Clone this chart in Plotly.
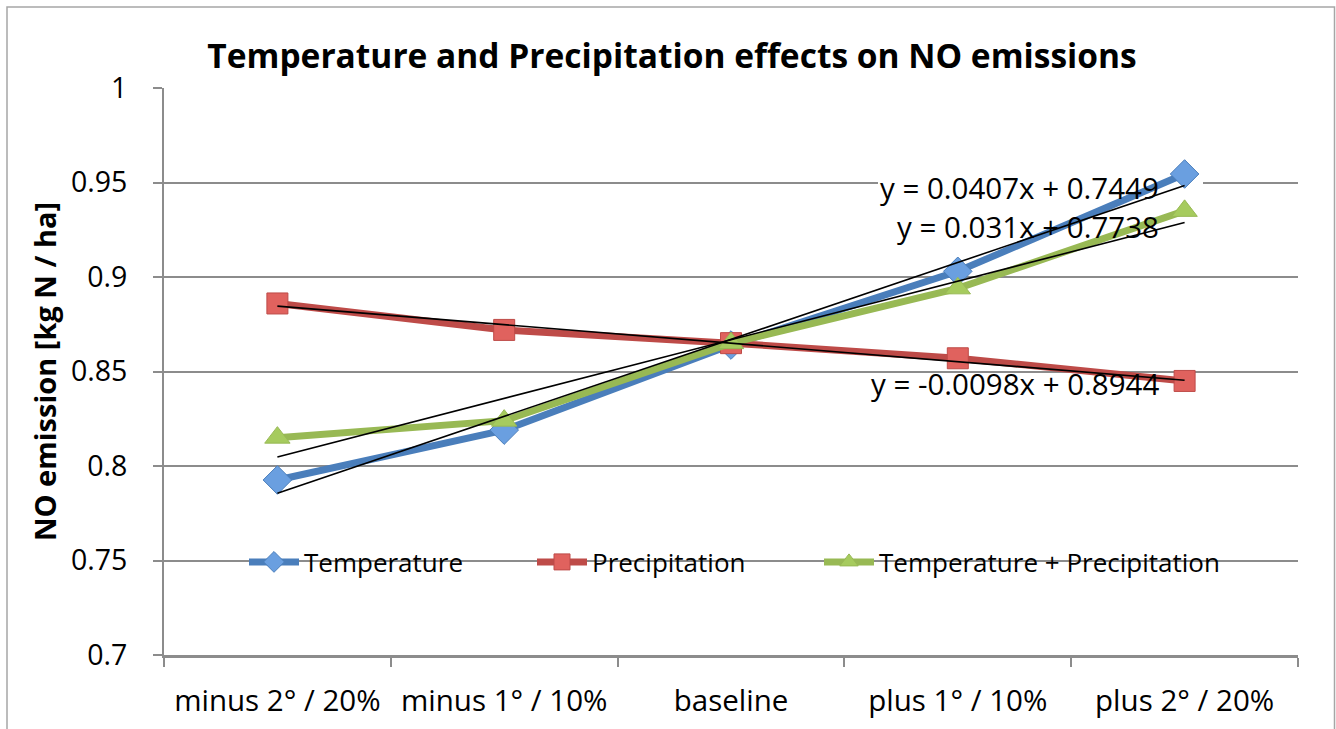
import plotly.graph_objects as go

# Scenario categories along the x axis
categories = ["minus 2° / 20%", "minus 1° / 10%", "baseline", "plus 1° / 10%", "plus 2° / 20%"]
x_pos = [1, 2, 3, 4, 5]

# NO emission [kg N / ha] per scenario
temperature = [0.7926, 0.819, 0.864, 0.903, 0.9545]
precipitation = [0.886, 0.872, 0.865, 0.857, 0.845]
temp_precip = [0.815, 0.824, 0.865, 0.894, 0.935]

# Linear trend coefficients (slope, intercept)
trend_temperature = (0.0407, 0.7449)
trend_precipitation = (-0.0098, 0.8944)
trend_temp_precip = (0.031, 0.7738)

y_ticks = [0.7, 0.75, 0.8, 0.85, 0.9, 0.95, 1]

FONT = "Open Sans"

# Plot area in pixels (used to place labels/legends)
L, R, T, B = 164, 1298, 88, 655


def px_to_x(px):
    return 0.5 + (px - L) / (R - L) * 5


def px_to_paper_x(px):
    return (px - L) / (R - L)


def px_to_paper_y(py):
    return (B - py) / (B - T)


fig = go.Figure()

series = [
    ("Temperature", temperature, "#4A7EBB", "#6A9FE0", "diamond", 22, "legend", 244),
    ("Precipitation", precipitation, "#BE4B48", "#E0625E", "square", 21, "legend2", 532),
    ("Temperature + Precipitation", temp_precip, "#98B954", "#A6CB5E", "triangle-up", 22, "legend3", 819),
]
legend_font = dict(family=FONT, size=26, color="black")
legends = {}
for name, vals, lc, mc, sym, sz, leg, lx in series:
    fig.add_trace(go.Scatter(
        x=x_pos, y=vals, name=name, mode="lines+markers", legend=leg,
        line=dict(color=lc, width=7),
        marker=dict(symbol=sym, size=sz, color=mc, line=dict(color=lc, width=1)),
    ))
    legends[leg] = dict(orientation="h", x=px_to_paper_x(lx), xanchor="left",
                        y=px_to_paper_y(562), yanchor="middle", font=legend_font,
                        bgcolor="rgba(0,0,0,0)", itemwidth=50)

# Black trend lines across the category range
for slope, icpt in (trend_temperature, trend_precipitation, trend_temp_precip):
    fig.add_trace(go.Scatter(
        x=[x_pos[0], x_pos[-1]],
        y=[slope * x_pos[0] + icpt, slope * x_pos[-1] + icpt],
        mode="lines", line=dict(color="black", width=1.6),
        showlegend=False, hoverinfo="skip",
    ))


def eq_text(slope, icpt):
    sign = "+" if icpt >= 0 else "-"
    return f"y = {slope:g}x {sign} {abs(icpt):.4f}"


eq_font = dict(family=FONT, size=29.5, color="black")
for coef, yv in ((trend_temperature, 0.9475), (trend_temp_precip, 0.9265), (trend_precipitation, 0.8435)):
    fig.add_annotation(x=px_to_x(1161), xref="x", y=yv, yref="y", text=eq_text(*coef),
                       showarrow=False, xanchor="right", yanchor="middle", font=eq_font)

# White backing behind the top equation (drawn under the series)
fig.add_shape(type="rect", xref="x", yref="y",
              x0=px_to_x(878), x1=px_to_x(1203),
              y0=0.9415, y1=0.9525, fillcolor="white", line=dict(width=0), layer="between")

# Outer chart border
fig.add_shape(type="rect", xref="paper", yref="paper",
              x0=px_to_paper_x(7), x1=px_to_paper_x(1334.5),
              y0=px_to_paper_y(740), y1=px_to_paper_y(7),
              line=dict(color="#A6A6A6", width=1.5), fillcolor="rgba(0,0,0,0)", layer="below")

fig.update_layout(
    width=1336, height=729,
    margin=dict(l=L, r=1336 - R, t=T, b=729 - B, autoexpand=False),
    paper_bgcolor="white", plot_bgcolor="white",
    title=dict(text="<b>Temperature and Precipitation effects on NO emissions</b>",
               x=672 / 1336, xanchor="center", y=1 - 56 / 729, yanchor="middle",
               font=dict(family=FONT, size=33.5, color="black"), automargin=False),
    font=dict(family=FONT, color="black"),
    showlegend=True,
    **legends,
    xaxis=dict(range=[0.5, 5.5], tickmode="array", tickvals=x_pos, ticktext=categories,
               automargin=False,
               showgrid=False, zeroline=False, showline=True, linecolor="#8C8C8C", linewidth=2.5,
               ticks="", tickfont=dict(family=FONT, size=29.5, color="black"), ticklabelstandoff=18,
               minor=dict(tickmode="linear", tick0=0.5, dtick=1, ticks="outside", ticklen=9,
                          tickcolor="#8C8C8C", tickwidth=1.5, showgrid=False)),
    yaxis=dict(range=[0.7, 1.0], tickmode="array", tickvals=y_ticks,
               ticktext=[f"{v:g}" for v in y_ticks], automargin=False,
               showgrid=True, gridcolor="#8C8C8C", gridwidth=2, zeroline=False,
               showline=True, linecolor="#8C8C8C", linewidth=2,
               ticks="outside", ticklen=9, tickcolor="#8C8C8C", tickwidth=1.5,
               tickfont=dict(family=FONT, size=28.5, color="black"), ticklabelstandoff=20,
               title=dict(text="<b>NO emission [kg N / ha]</b>", standoff=6,
                          font=dict(family=FONT, size=29, color="black"))),
)

fig.write_html("out.html")
